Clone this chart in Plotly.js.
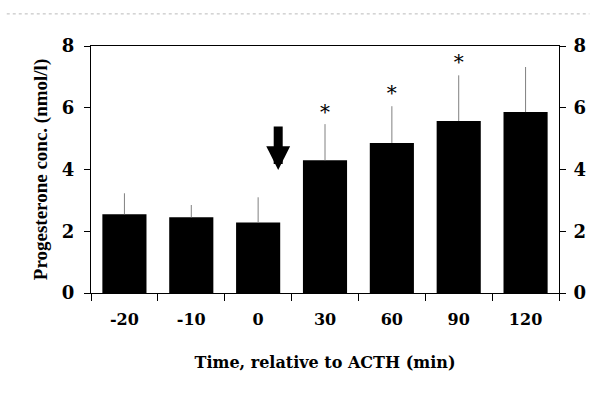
<!DOCTYPE html>
<html><head><meta charset="utf-8">
<script src="https://cdn.plot.ly/plotly-3.0.1.min.js"></script>
<style>body{margin:0;background:#fff}#c{width:594px;height:401px}</style>
</head><body><div id="c"></div>
<script>
const categories = ["-20","-10","0","30","60","90","120"];
const means = [2.55, 2.45, 2.28, 4.30, 4.86, 5.57, 5.86];
const sdUpper = [0.68, 0.40, 0.82, 1.17, 1.19, 1.48, 1.46];
const starCats = ["30","60","90"];
const starY = [5.8, 6.42, 7.42];
const arrowX = 2.30, arrowTop = 5.44, arrowBottom = 3.98;

const F = "Liberation Serif, Times New Roman, serif";
const W = "DejaVu Serif, serif";
const traces = [
  {type:'bar', x:categories, y:means, marker:{color:'#000', line:{width:0}},
   error_y:{type:'data', symmetric:false, array:sdUpper, arrayminus:means.map(()=>0), color:'#808080', thickness:1, width:0},
   hoverinfo:'none'},
  {type:'scatter', mode:'text', x:starCats, y:starY, text:starCats.map(()=>'*'),
   textfont:{family:W, size:20, color:'#000'}, hoverinfo:'none'},
  {type:'scatter', mode:'markers', x:[categories[0]], y:[0], yaxis:'y2', marker:{opacity:0}, hoverinfo:'none'}
];
const layout = {
  width:594, height:401, showlegend:false,
  margin:{l:91, r:35, t:46, b:108},
  paper_bgcolor:'#fff', plot_bgcolor:'#fff',
  bargap:0.34,
  font:{family:W, color:'#000'},
  xaxis:{type:'category', tickson:'boundaries', ticks:'outside', ticklen:7, tickcolor:'#000',
    showline:true, linecolor:'#000', linewidth:1, mirror:true, showgrid:false,
    ticklabelstandoff:12,
    tickfont:{family:W, size:16, weight:'bold'},
    title:{text:'<b>Time, relative to ACTH (min)</b>', font:{family:W, size:16}, standoff:28}},
  yaxis:{range:[0,8], dtick:2, ticks:'outside', ticklen:6, tickcolor:'#000', showline:true, linecolor:'#000',
    showgrid:false, zeroline:false, ticklabelstandoff:6, tickfont:{family:W, size:18, weight:'bold'},
    title:{text:'<b>Progesterone conc. (nmol/l)</b>', font:{family:F, size:19}, standoff:9}},
  yaxis2:{range:[0,8], dtick:2, overlaying:'y', side:'right', ticks:'outside', ticklen:6, tickcolor:'#000',
    showline:true, linecolor:'#000', showgrid:false, zeroline:false, ticklabelstandoff:4,
    tickfont:{family:W, size:18, weight:'bold'}},
  shapes:[{type:'line', xref:'paper', yref:'paper', x0:-0.18, x1:1.065, y0:1.13, y1:1.13,
    line:{color:'#bbb', width:1, dash:'dot'}}],
  annotations:[{x:arrowX, y:arrowBottom, ax:arrowX, ay:arrowTop, xref:'x', yref:'y', axref:'x', ayref:'y',
    showarrow:true, arrowhead:2, arrowsize:0.53, arrowwidth:9, arrowcolor:'#000', text:''}]
};
Plotly.newPlot('c', traces, layout, {displayModeBar:false, staticPlot:true});
</script></body></html>
